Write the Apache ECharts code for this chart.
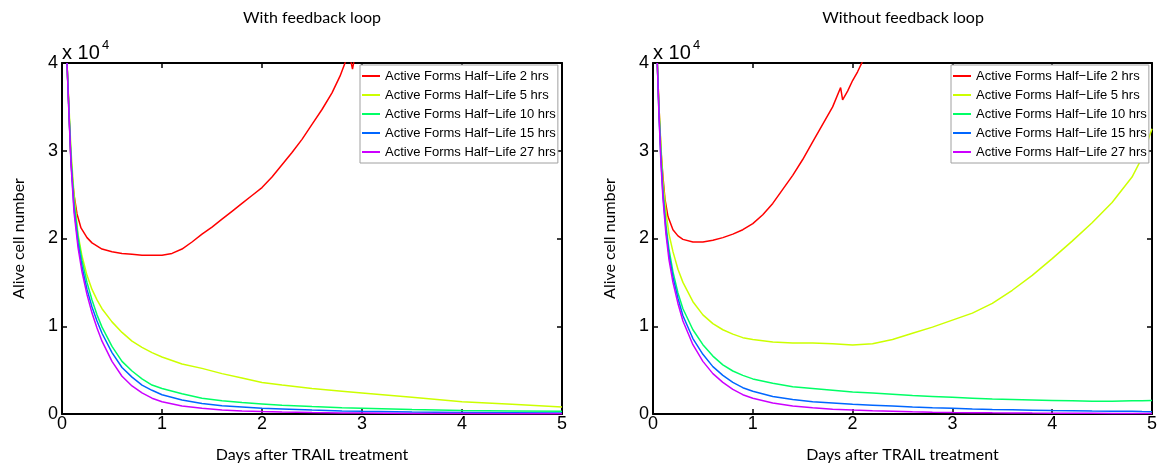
<!DOCTYPE html>
<html><head><meta charset="utf-8">
<script src="https://cdn.jsdelivr.net/npm/echarts@6/dist/echarts.min.js"></script>
<style>html,body{margin:0;padding:0;background:#fff}#c{width:1160px;height:468px}</style>
</head><body><div id="c"></div>
<script>
// ---- labels ----
const panelTitles = ['With feedback loop', 'Without feedback loop'];
const xAxisTitle = 'Days after TRAIL treatment';
const yAxisTitle = 'Alive cell number';
const yScaleBase = 'x 10';
const yScaleExp = '4';
const xTicks = [0, 1, 2, 3, 4, 5];
const yTicks = [0, 1, 2, 3, 4];           // in units of 10^4 cells
const seriesNames = [
  'Active Forms Half\u2212Life 2 hrs',
  'Active Forms Half\u2212Life 5 hrs',
  'Active Forms Half\u2212Life 10 hrs',
  'Active Forms Half\u2212Life 15 hrs',
  'Active Forms Half\u2212Life 27 hrs'
];
const seriesColors = ['#ff0000', '#ccff00', '#00ff66', '#0066ff', '#cc00ff'];

// ---- left panel: with feedback loop (values in 10^4 cells) ----
const daysWith = [0.05,0.07,0.09,0.12,0.16,0.2,0.25,0.3,0.35,0.4,0.5,0.6,0.7,0.8,0.9,1.0,1.2,1.4,1.6,1.8,2.0,2.2,2.5,2.8,3.0,3.5,4.0,4.5,5.0];
const withHL5  = [4.0,3.5,3.0,2.5,2.05,1.8,1.58,1.42,1.3,1.2,1.05,0.93,0.83,0.76,0.7,0.65,0.57,0.52,0.46,0.41,0.36,0.33,0.29,0.26,0.24,0.19,0.14,0.11,0.08];
const withHL10 = [4.0,3.45,2.92,2.42,2.02,1.75,1.5,1.3,1.13,0.99,0.77,0.6,0.49,0.4,0.33,0.29,0.23,0.18,0.15,0.13,0.115,0.1,0.085,0.072,0.065,0.05,0.04,0.035,0.03];
const withHL15 = [4.0,3.42,2.88,2.35,1.95,1.68,1.42,1.22,1.06,0.92,0.7,0.53,0.42,0.33,0.27,0.22,0.16,0.12,0.095,0.08,0.065,0.057,0.045,0.035,0.03,0.022,0.017,0.013,0.01];
const withHL27 = [4.0,3.4,2.85,2.3,1.9,1.62,1.36,1.15,0.98,0.83,0.6,0.43,0.32,0.24,0.18,0.14,0.09,0.065,0.045,0.035,0.028,0.023,0.017,0.012,0.01,0.007,0.005,0.004,0.003];
const daysWithHL2 = [0.05,0.07,0.085,0.1,0.12,0.15,0.19,0.25,0.3,0.4,0.5,0.6,0.7,0.8,0.9,1.0,1.1,1.2,1.3,1.4,1.5,1.6,1.7,1.8,1.9,2.0,2.1,2.2,2.3,2.4,2.5,2.6,2.7,2.78,2.83,2.87,2.905,2.94,3.0];
const withHL2  = [4.0,3.45,3.0,2.72,2.5,2.28,2.12,2.01,1.95,1.88,1.85,1.83,1.82,1.81,1.81,1.81,1.83,1.88,1.96,2.05,2.13,2.22,2.31,2.4,2.49,2.58,2.7,2.84,2.98,3.13,3.3,3.47,3.66,3.85,4.0,4.12,3.93,4.15,4.4];

// ---- right panel: without feedback loop ----
const daysWithout = [0.043,0.06,0.08,0.1,0.13,0.16,0.2,0.25,0.3,0.4,0.5,0.6,0.7,0.8,0.9,1.0,1.2,1.4,1.6,1.8,2.0,2.2,2.4,2.6,2.8,3.0,3.2,3.4,3.6,3.8,4.0,4.2,4.4,4.6,4.8,4.9,5.0];
const withoutHL5  = [4.0,3.5,3.05,2.65,2.3,2.05,1.85,1.65,1.5,1.28,1.13,1.03,0.96,0.91,0.87,0.85,0.82,0.81,0.81,0.8,0.785,0.8,0.85,0.92,0.99,1.07,1.15,1.26,1.41,1.58,1.77,1.97,2.18,2.41,2.7,2.92,3.25];
const withoutHL10 = [4.0,3.45,2.95,2.55,2.15,1.88,1.62,1.38,1.2,0.96,0.79,0.66,0.56,0.49,0.44,0.4,0.35,0.31,0.29,0.27,0.25,0.24,0.225,0.21,0.2,0.19,0.18,0.17,0.165,0.16,0.155,0.15,0.145,0.145,0.15,0.15,0.155];
const withoutHL15 = [4.0,3.42,2.9,2.5,2.1,1.82,1.56,1.32,1.12,0.86,0.68,0.54,0.44,0.36,0.3,0.26,0.2,0.165,0.14,0.125,0.11,0.1,0.09,0.08,0.072,0.065,0.058,0.052,0.048,0.044,0.04,0.037,0.034,0.032,0.03,0.028,0.027];
const withoutHL27 = [4.0,3.4,2.85,2.45,2.05,1.76,1.5,1.26,1.06,0.79,0.6,0.46,0.36,0.28,0.22,0.18,0.125,0.09,0.07,0.055,0.045,0.038,0.032,0.026,0.021,0.017,0.015,0.013,0.012,0.01,0.009,0.008,0.0075,0.007,0.006,0.0055,0.005];
const daysWithoutHL2 = [0.043,0.06,0.08,0.1,0.12,0.15,0.2,0.25,0.3,0.4,0.5,0.6,0.7,0.8,0.9,1.0,1.1,1.2,1.3,1.4,1.5,1.6,1.7,1.8,1.88,1.9,1.95,2.0,2.05,2.1,2.2];
const withoutHL2  = [4.0,3.5,3.0,2.7,2.45,2.25,2.1,2.03,1.99,1.96,1.96,1.98,2.01,2.05,2.1,2.17,2.27,2.4,2.56,2.72,2.9,3.1,3.3,3.5,3.72,3.58,3.68,3.8,3.9,4.02,4.25];

// ---- build ----
const zip = (xs, ys) => xs.map((x, i) => [x, ys[i]]);
const panels = [
  [zip(daysWithHL2, withHL2), zip(daysWith, withHL5), zip(daysWith, withHL10), zip(daysWith, withHL15), zip(daysWith, withHL27)],
  [zip(daysWithoutHL2, withoutHL2), zip(daysWithout, withoutHL5), zip(daysWithout, withoutHL10), zip(daysWithout, withoutHL15), zip(daysWithout, withoutHL27)]
];

const gridLefts = [62, 653];
const plotW = 500, plotTop = 63, plotH = 352;
const tickFont = 'Liberation Sans';
const textFont = 'Lato';

const axisLine = {show: true, onZero: false, lineStyle: {color: '#000', width: 2}};
const axisTick = {show: true, inside: true, length: 5, lineStyle: {color: '#000', width: 1.5}};

const grid = [], xAxis = [], yAxis = [], series = [], legend = [], graphic = [];
panels.forEach((data, gi) => {
  grid.push({left: gridLefts[gi], top: plotTop, width: plotW, height: plotH, containLabel: false});
  const xBase = {gridIndex: gi, type: 'value', min: xTicks[0], max: xTicks[xTicks.length - 1], interval: xTicks[1] - xTicks[0],
    axisLine, axisTick, splitLine: {show: false}};
  const yBase = {gridIndex: gi, type: 'value', min: yTicks[0], max: yTicks[yTicks.length - 1], interval: yTicks[1] - yTicks[0],
    axisLine, axisTick, splitLine: {show: false}};
  xAxis.push(Object.assign({}, xBase, {position: 'bottom',
    axisLabel: {color: '#000', fontSize: 18, fontFamily: tickFont, margin: 1},
    name: xAxisTitle, nameLocation: 'middle', nameGap: 33,
    nameTextStyle: {color: '#000', fontSize: 16, fontFamily: textFont}}));
  xAxis.push(Object.assign({}, xBase, {position: 'top', axisLabel: {show: false}}));
  yAxis.push(Object.assign({}, yBase, {position: 'left',
    axisLabel: {color: '#000', fontSize: 18, fontFamily: tickFont, margin: 4},
    name: yAxisTitle, nameLocation: 'middle', nameGap: 35,
    nameTextStyle: {color: '#000', fontSize: 16, fontFamily: textFont}}));
  yAxis.push(Object.assign({}, yBase, {position: 'right', axisLabel: {show: false}}));
  data.forEach((d, si) => {
    series.push({type: 'line', name: seriesNames[si], xAxisIndex: gi * 2, yAxisIndex: gi * 2,
      data: d, symbol: 'none', smooth: false, clip: true, color: seriesColors[si],
      lineStyle: {width: 1.5, color: seriesColors[si]}, animation: false});
  });
  legend.push({orient: 'vertical', left: gridLefts[gi] + 298, top: 65, data: seriesNames,
    backgroundColor: '#fff', borderColor: '#a0a0a0', borderWidth: 1, padding: [4, 2, 4, 2],
    icon: 'rect', itemWidth: 18, itemHeight: 2, itemGap: 5, selectedMode: false,
    textStyle: {color: '#000', fontSize: 13, fontFamily: tickFont, lineHeight: 14}});
  const cx = gridLefts[gi] + plotW / 2;
  graphic.push({type: 'text', x: cx, y: 18, style: {text: panelTitles[gi], font: '16px ' + textFont, fill: '#000',
    align: 'center', verticalAlign: 'middle', textAlign: 'center', textVerticalAlign: 'middle'}});
  graphic.push({type: 'text', x: gridLefts[gi] + 0, y: 63, style: {text: yScaleBase, font: '20px ' + tickFont, fill: '#000',
    align: 'left', verticalAlign: 'bottom', textAlign: 'left', textVerticalAlign: 'bottom'}});
  graphic.push({type: 'text', x: gridLefts[gi] + 40, y: 52, style: {text: yScaleExp, font: '13px ' + tickFont, fill: '#000',
    align: 'left', verticalAlign: 'bottom', textAlign: 'left', textVerticalAlign: 'bottom'}});
});

const chart = echarts.init(document.getElementById('c'), null, {renderer: 'canvas'});
chart.setOption({animation: false, backgroundColor: '#fff', grid, xAxis, yAxis, series, legend, graphic});
</script></body></html>
